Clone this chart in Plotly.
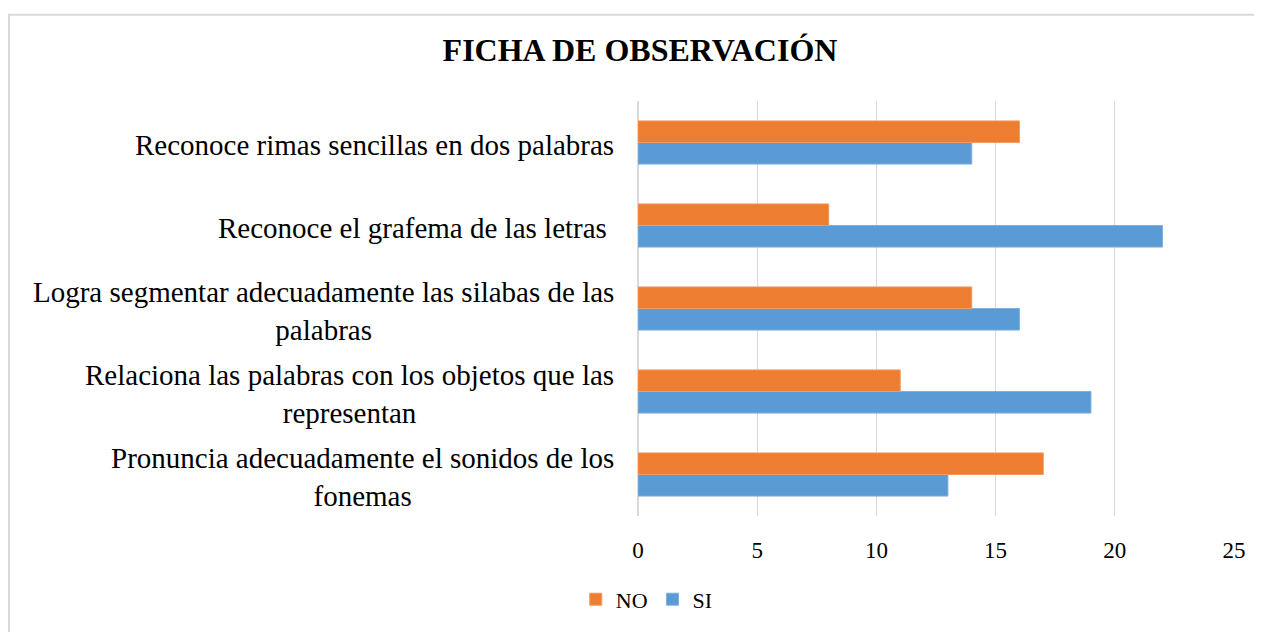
import plotly.graph_objects as go

# categories listed bottom -> top (plotly puts the first category at the bottom)
categories = [
    "Pronuncia adecuadamente el sonidos de los<br>fonemas",
    "Relaciona las palabras con los objetos que las<br>representan",
    "Logra segmentar adecuadamente las silabas de las<br>palabras",
    "Reconoce el grafema de las letras ",
    "Reconoce rimas sencillas en dos palabras",
]
si_values = [13, 19, 16, 22, 14]
no_values = [17, 11, 14, 8, 16]
x_ticks = [0, 5, 10, 15, 20, 25]

SERIF = "Liberation Serif, Times New Roman, serif"
BLUE = "#5B9BD5"
ORANGE = "#ED7D31"

fig = go.Figure()
# SI first so it sits at the bottom of each group
fig.add_trace(go.Bar(
    y=categories, x=si_values, name="SI", orientation="h",
    marker=dict(color=BLUE, line=dict(color="#7DB0DE", width=1)),
))
fig.add_trace(go.Bar(
    y=categories, x=no_values, name="NO", orientation="h",
    marker=dict(color=ORANGE, line=dict(color="#F29A60", width=1)),
))

# category labels as annotations so the wrapped lines stay centred
for cat in categories:
    fig.add_annotation(
        x=0, xref="paper", y=cat, yref="y",
        text=cat, showarrow=False, xanchor="right", yanchor="middle",
        align="center", xshift=-22, yshift=-2,
        font=dict(family=SERIF, size=29, color="#000000"),
    )

# light grey frame around the chart (only top/left end up on screen)
fig.add_shape(
    type="rect", xref="paper", yref="paper",
    x0=-1.0554, x1=1.2, y0=-0.4, y1=1.2079,
    line=dict(color="#D9D9D9", width=2), fillcolor="rgba(0,0,0,0)", layer="below",
)

# page body has an 8px margin, so the figure is 8px smaller and margins shifted
fig.update_layout(
    width=1254, height=624,
    margin=dict(l=630, r=28, t=93, b=108),
    paper_bgcolor="white", plot_bgcolor="white",
    barmode="group", bargap=0.48, bargroupgap=0,
    title=dict(
        text="<b>FICHA DE OBSERVACIÓN</b>", x=0.504, xanchor="center",
        y=0.9327, yanchor="middle",
        font=dict(family=SERIF, size=32, color="#000000"),
    ),
    font=dict(family=SERIF, color="#000000"),
    xaxis=dict(
        range=[0, 25], tickvals=x_ticks, showgrid=True, gridcolor="#D9D9D9",
        gridwidth=1, zeroline=True, zerolinecolor="#D9D9D9", showline=False,
        tickfont=dict(family=SERIF, size=23, color="#000000"), ticks="",
        ticklabelstandoff=18,
    ),
    yaxis=dict(showticklabels=False, showgrid=False, zeroline=False, showline=False),
    legend=dict(
        orientation="h", x=0.0147, xanchor="center", y=-0.201, yanchor="middle",
        traceorder="reversed", font=dict(family=SERIF, size=22, color="#000000"),
        itemwidth=30,
    ),
    showlegend=True,
)

fig.write_html("out.html")
